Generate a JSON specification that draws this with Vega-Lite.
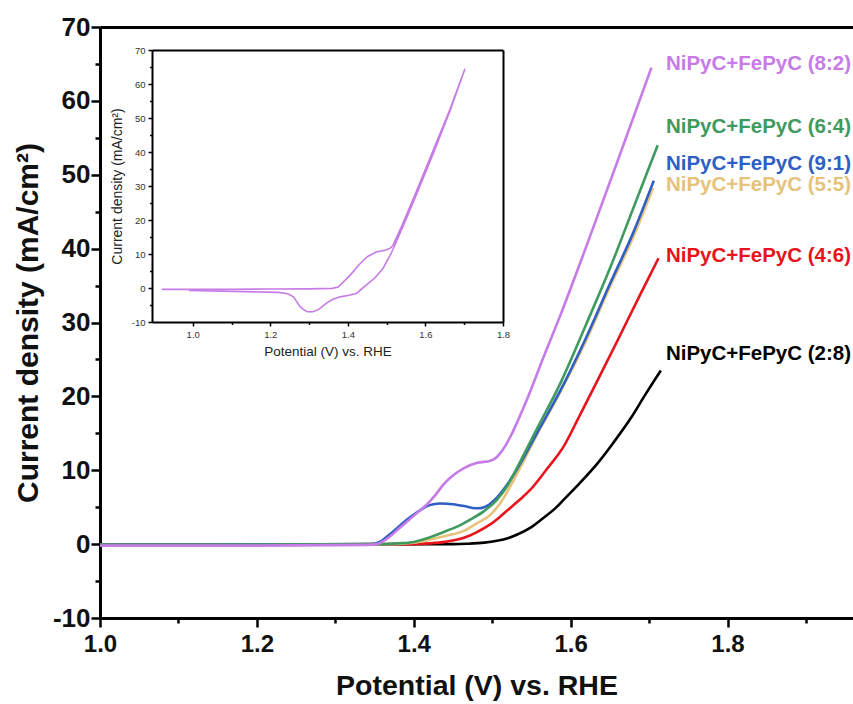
{
  "$schema": "https://vega.github.io/schema/vega-lite/v6.json",
  "width": 753,
  "height": 591,
  "autosize": {"type": "none"},
  "padding": {"left": 100, "top": 27, "right": 0, "bottom": 86},
  "background": "white",
  "config": {"view": {"stroke": null}, "axis": {"grid": false}},
  "datasets": {
    "curves": [
      {"series": "2:8", "V": 1.0, "J": -0.1}, {"series": "2:8", "V": 1.45, "J": 0}, {"series": "2:8", "V": 1.468, "J": 0.05}, {"series": "2:8", "V": 1.49, "J": 0.2}, {"series": "2:8", "V": 1.506, "J": 0.45}, {"series": "2:8", "V": 1.52, "J": 0.8}, {"series": "2:8", "V": 1.532, "J": 1.3}, {"series": "2:8", "V": 1.55, "J": 2.3}, {"series": "2:8", "V": 1.566, "J": 3.6}, {"series": "2:8", "V": 1.58, "J": 4.8}, {"series": "2:8", "V": 1.591, "J": 6.0}, {"series": "2:8", "V": 1.612, "J": 8.3}, {"series": "2:8", "V": 1.634, "J": 10.9}, {"series": "2:8", "V": 1.655, "J": 13.8}, {"series": "2:8", "V": 1.677, "J": 17.1}, {"series": "2:8", "V": 1.695, "J": 20.2}, {"series": "2:8", "V": 1.715, "J": 23.5},
      {"series": "4:6", "V": 1.0, "J": -0.1}, {"series": "4:6", "V": 1.4, "J": 0}, {"series": "4:6", "V": 1.421, "J": 0.1}, {"series": "4:6", "V": 1.44, "J": 0.3}, {"series": "4:6", "V": 1.464, "J": 0.85}, {"series": "4:6", "V": 1.48, "J": 1.6}, {"series": "4:6", "V": 1.498, "J": 2.7}, {"series": "4:6", "V": 1.51, "J": 3.7}, {"series": "4:6", "V": 1.523, "J": 4.9}, {"series": "4:6", "V": 1.535, "J": 6.0}, {"series": "4:6", "V": 1.549, "J": 7.4}, {"series": "4:6", "V": 1.57, "J": 10.2}, {"series": "4:6", "V": 1.591, "J": 13.2}, {"series": "4:6", "V": 1.612, "J": 17.5}, {"series": "4:6", "V": 1.634, "J": 22.1}, {"series": "4:6", "V": 1.66, "J": 27.6}, {"series": "4:6", "V": 1.686, "J": 33.2}, {"series": "4:6", "V": 1.712, "J": 38.7},
      {"series": "5:5", "V": 1.0, "J": -0.1}, {"series": "5:5", "V": 1.37, "J": 0}, {"series": "5:5", "V": 1.4, "J": 0.2}, {"series": "5:5", "V": 1.42, "J": 0.6}, {"series": "5:5", "V": 1.44, "J": 1.1}, {"series": "5:5", "V": 1.464, "J": 1.8}, {"series": "5:5", "V": 1.48, "J": 2.8}, {"series": "5:5", "V": 1.498, "J": 4.0}, {"series": "5:5", "V": 1.51, "J": 5.5}, {"series": "5:5", "V": 1.532, "J": 9.6}, {"series": "5:5", "V": 1.557, "J": 14.8}, {"series": "5:5", "V": 1.587, "J": 20.6}, {"series": "5:5", "V": 1.62, "J": 27.6}, {"series": "5:5", "V": 1.65, "J": 34.8}, {"series": "5:5", "V": 1.68, "J": 41.6}, {"series": "5:5", "V": 1.705, "J": 48.2},
      {"series": "9:1", "V": 1.0, "J": -0.1}, {"series": "9:1", "V": 1.345, "J": 0}, {"series": "9:1", "V": 1.357, "J": 0.3}, {"series": "9:1", "V": 1.368, "J": 1.2}, {"series": "9:1", "V": 1.379, "J": 2.2}, {"series": "9:1", "V": 1.39, "J": 3.2}, {"series": "9:1", "V": 1.4, "J": 4.0}, {"series": "9:1", "V": 1.41, "J": 4.7}, {"series": "9:1", "V": 1.417, "J": 5.15}, {"series": "9:1", "V": 1.425, "J": 5.4}, {"series": "9:1", "V": 1.434, "J": 5.5}, {"series": "9:1", "V": 1.45, "J": 5.4}, {"series": "9:1", "V": 1.464, "J": 5.15}, {"series": "9:1", "V": 1.475, "J": 4.9}, {"series": "9:1", "V": 1.481, "J": 4.85}, {"series": "9:1", "V": 1.49, "J": 5.0}, {"series": "9:1", "V": 1.494, "J": 5.2}, {"series": "9:1", "V": 1.5, "J": 5.7}, {"series": "9:1", "V": 1.506, "J": 6.3}, {"series": "9:1", "V": 1.52, "J": 8.2}, {"series": "9:1", "V": 1.532, "J": 10.2}, {"series": "9:1", "V": 1.557, "J": 15.0}, {"series": "9:1", "V": 1.587, "J": 20.8}, {"series": "9:1", "V": 1.62, "J": 28.0}, {"series": "9:1", "V": 1.65, "J": 35.2}, {"series": "9:1", "V": 1.68, "J": 42.2}, {"series": "9:1", "V": 1.706, "J": 49.2},
      {"series": "6:4", "V": 1.0, "J": -0.1}, {"series": "6:4", "V": 1.36, "J": 0}, {"series": "6:4", "V": 1.38, "J": 0.1}, {"series": "6:4", "V": 1.4, "J": 0.3}, {"series": "6:4", "V": 1.42, "J": 0.9}, {"series": "6:4", "V": 1.442, "J": 1.8}, {"series": "6:4", "V": 1.46, "J": 2.6}, {"series": "6:4", "V": 1.472, "J": 3.3}, {"series": "6:4", "V": 1.49, "J": 4.5}, {"series": "6:4", "V": 1.506, "J": 6.0}, {"series": "6:4", "V": 1.52, "J": 8.0}, {"series": "6:4", "V": 1.532, "J": 10.4}, {"series": "6:4", "V": 1.557, "J": 15.6}, {"series": "6:4", "V": 1.587, "J": 21.8}, {"series": "6:4", "V": 1.62, "J": 29.8}, {"series": "6:4", "V": 1.65, "J": 37.3}, {"series": "6:4", "V": 1.68, "J": 45.5}, {"series": "6:4", "V": 1.711, "J": 54.0},
      {"series": "8:2", "V": 1.0, "J": -0.2}, {"series": "8:2", "V": 1.2, "J": -0.2}, {"series": "8:2", "V": 1.34, "J": -0.1}, {"series": "8:2", "V": 1.353, "J": 0}, {"series": "8:2", "V": 1.368, "J": 0.9}, {"series": "8:2", "V": 1.38, "J": 2.0}, {"series": "8:2", "V": 1.392, "J": 3.1}, {"series": "8:2", "V": 1.405, "J": 4.3}, {"series": "8:2", "V": 1.417, "J": 5.4}, {"series": "8:2", "V": 1.428, "J": 6.7}, {"series": "8:2", "V": 1.438, "J": 8.1}, {"series": "8:2", "V": 1.45, "J": 9.3}, {"series": "8:2", "V": 1.464, "J": 10.3}, {"series": "8:2", "V": 1.481, "J": 11.0}, {"series": "8:2", "V": 1.498, "J": 11.3}, {"series": "8:2", "V": 1.506, "J": 11.8}, {"series": "8:2", "V": 1.513, "J": 12.7}, {"series": "8:2", "V": 1.523, "J": 14.5}, {"series": "8:2", "V": 1.536, "J": 17.5}, {"series": "8:2", "V": 1.549, "J": 20.8}, {"series": "8:2", "V": 1.565, "J": 25.2}, {"series": "8:2", "V": 1.587, "J": 31.0}, {"series": "8:2", "V": 1.62, "J": 40.3}, {"series": "8:2", "V": 1.66, "J": 51.9}, {"series": "8:2", "V": 1.703, "J": 64.5}
    ],
    "labels": [
      {"series": "8:2", "text": "NiPyC+FePyC (8:2)", "V": 1.7215, "J": 65.0},
      {"series": "6:4", "text": "NiPyC+FePyC (6:4)", "V": 1.7215, "J": 56.5},
      {"series": "9:1", "text": "NiPyC+FePyC (9:1)", "V": 1.7215, "J": 51.5},
      {"series": "5:5", "text": "NiPyC+FePyC (5:5)", "V": 1.7215, "J": 48.6},
      {"series": "4:6", "text": "NiPyC+FePyC (4:6)", "V": 1.7215, "J": 39.0},
      {"series": "2:8", "text": "NiPyC+FePyC (2:8)", "V": 1.7215, "J": 25.7}
    ],
    "cv": [
      {"i": 1, "V": 0.92, "J": -0.4}, {"i": 2, "V": 1.0, "J": -0.4}, {"i": 3, "V": 1.1, "J": -0.35}, {"i": 4, "V": 1.2, "J": -0.3}, {"i": 5, "V": 1.3, "J": -0.25}, {"i": 6, "V": 1.36, "J": -0.1}, {"i": 7, "V": 1.375, "J": 0.3}, {"i": 8, "V": 1.396, "J": 2.6}, {"i": 9, "V": 1.41, "J": 4.3}, {"i": 10, "V": 1.43, "J": 7.0}, {"i": 11, "V": 1.45, "J": 9.2}, {"i": 12, "V": 1.473, "J": 10.6}, {"i": 13, "V": 1.499, "J": 11.2}, {"i": 14, "V": 1.51, "J": 11.8}, {"i": 15, "V": 1.516, "J": 12.5}, {"i": 16, "V": 1.54, "J": 18.5}, {"i": 17, "V": 1.577, "J": 28.5}, {"i": 18, "V": 1.62, "J": 40.5}, {"i": 19, "V": 1.663, "J": 52.5}, {"i": 20, "V": 1.702, "J": 64.5},
      {"i": 21, "V": 1.663, "J": 52.0}, {"i": 22, "V": 1.62, "J": 39.5}, {"i": 23, "V": 1.577, "J": 27.5}, {"i": 24, "V": 1.54, "J": 17.5}, {"i": 25, "V": 1.511, "J": 10.0}, {"i": 26, "V": 1.5, "J": 7.8}, {"i": 27, "V": 1.491, "J": 5.8}, {"i": 28, "V": 1.47, "J": 3.0}, {"i": 29, "V": 1.448, "J": 0.9}, {"i": 30, "V": 1.422, "J": -1.6}, {"i": 31, "V": 1.4, "J": -2.2}, {"i": 32, "V": 1.38, "J": -2.6}, {"i": 33, "V": 1.36, "J": -3.4}, {"i": 34, "V": 1.344, "J": -4.5}, {"i": 35, "V": 1.325, "J": -6.3}, {"i": 36, "V": 1.31, "J": -7.0}, {"i": 37, "V": 1.295, "J": -7.0}, {"i": 38, "V": 1.285, "J": -6.3}, {"i": 39, "V": 1.277, "J": -5.5}, {"i": 40, "V": 1.268, "J": -4.0}, {"i": 41, "V": 1.26, "J": -2.6}, {"i": 42, "V": 1.245, "J": -1.7}, {"i": 43, "V": 1.22, "J": -1.3}, {"i": 44, "V": 1.19, "J": -1.2}, {"i": 45, "V": 1.105, "J": -1.0}, {"i": 46, "V": 0.99, "J": -0.7}
    ]
  },
  "layer": [
    {
      "resolve": {"axis": {"x": "independent", "y": "independent"}},
      "layer": [
        {
          "data": {"name": "curves"},
          "mark": {"type": "line", "strokeWidth": 2.6, "interpolate": "monotone"},
          "encoding": {
            "x": {
              "field": "V", "type": "quantitative",
              "scale": {"domain": [1.0, 1.96], "nice": false, "zero": false},
              "axis": {
                "orient": "bottom", "values": [1.0, 1.1, 1.2, 1.3, 1.4, 1.5, 1.6, 1.7, 1.8, 1.9],
                "format": ".1f",
                "labelExpr": "round(datum.value*10) % 2 === 0 ? datum.label : ''",
                "domainColor": "#000", "domainWidth": 3,
                "tickColor": "#000", "tickWidth": 2.5,
                "tickSize": {"condition": {"test": "round(datum.value*10) % 2 === 0", "value": 9}, "value": 5},
                "labelFont": "Liberation Sans", "labelFontWeight": "bold", "labelFontSize": 24, "labelColor": "#111",
                "labelPadding": 5, "labelFlush": false, "labelOverlap": false,
                "title": "Potential (V) vs. RHE", "titleFont": "Liberation Sans", "titleFontWeight": "bold",
                "titleFontSize": 28.5, "titleColor": "#111", "titlePadding": 15
              }
            },
            "y": {
              "field": "J", "type": "quantitative",
              "scale": {"domain": [-10, 70], "nice": false, "zero": false},
              "axis": {
                "orient": "left", "values": [-10, -5, 0, 5, 10, 15, 20, 25, 30, 35, 40, 45, 50, 55, 60, 65, 70],
                "labelExpr": "datum.value % 10 === 0 ? replace(datum.label, '\u2212', '-') : ''",
                "domainColor": "#000", "domainWidth": 3,
                "tickColor": "#000", "tickWidth": 2.5,
                "tickSize": {"condition": {"test": "datum.value % 10 === 0", "value": 9}, "value": 5},
                "labelFont": "Liberation Sans", "labelFontWeight": "bold", "labelFontSize": 26, "labelColor": "#111",
                "labelPadding": 1, "labelFlush": false, "labelOverlap": false,
                "title": "Current density (mA/cm²)", "titleFont": "Liberation Sans", "titleFontWeight": "bold",
                "titleFontSize": 30, "titleColor": "#111", "titlePadding": 9
              }
            },
            "color": {
              "field": "series", "type": "nominal", "legend": null,
              "scale": {"domain": ["8:2", "6:4", "9:1", "5:5", "4:6", "2:8"], "range": ["#C77BE6", "#3F9A5E", "#2F5FC4", "#E6C27A", "#E8141C", "#000000"]}
            },
            "order": {"field": "V", "type": "quantitative"}
          }
        },
        {
          "data": {"name": "labels"},
          "mark": {"type": "text", "align": "left", "baseline": "middle", "font": "Liberation Sans", "fontWeight": "bold", "fontSize": 20.5},
          "encoding": {
            "x": {"field": "V", "type": "quantitative", "axis": {"orient": "top", "labels": false, "ticks": false, "title": null, "domainColor": "#000", "domainWidth": 3}},
            "y": {"field": "J", "type": "quantitative", "axis": null},
            "text": {"field": "text"},
            "color": {"field": "series", "type": "nominal", "legend": null}
          }
        }
      ]
    },
    {
      "resolve": {"axis": {"x": "independent", "y": "independent"}},
      "layer": [
        {
          "data": {"name": "cv"},
          "mark": {"type": "line", "strokeWidth": 1.6, "color": "#C77BE6"},
          "encoding": {
            "x": {
              "field": "V", "type": "quantitative",
              "scale": {"domain": [0.895, 1.8], "range": [52, 403], "nice": false, "zero": false},
              "axis": {
                "orient": "bottom", "offset": -296,
                "values": [1.0, 1.1, 1.2, 1.3, 1.4, 1.5, 1.6, 1.7, 1.8], "format": ".1f",
                "labelExpr": "round(datum.value*10) % 2 === 0 ? datum.label : ''",
                "domainColor": "#000", "domainWidth": 2, "tickColor": "#000", "tickWidth": 1.5,
                "tickSize": {"condition": {"test": "round(datum.value*10) % 2 === 0", "value": 4}, "value": 2.5},
                "labelFont": "Liberation Sans", "labelFontSize": 9.5, "labelColor": "#333", "labelPadding": 3,
                "labelFlush": false, "labelOverlap": false,
                "title": "Potential (V) vs. RHE", "titleFont": "Liberation Sans", "titleFontWeight": "normal",
                "titleFontSize": 13.5, "titleColor": "#222", "titlePadding": 6
              }
            },
            "y": {
              "field": "J", "type": "quantitative",
              "scale": {"domain": [-10, 70], "range": [295, 23], "nice": false, "zero": false},
              "axis": {
                "orient": "left", "offset": -52,
                "values": [-10, -5, 0, 5, 10, 15, 20, 25, 30, 35, 40, 45, 50, 55, 60, 65, 70],
                "labelExpr": "datum.value % 10 === 0 ? replace(datum.label, '\u2212', '-') : ''",
                "domainColor": "#000", "domainWidth": 2, "tickColor": "#000", "tickWidth": 1.5,
                "tickSize": {"condition": {"test": "datum.value % 10 === 0", "value": 4}, "value": 2.5},
                "labelFont": "Liberation Sans", "labelFontSize": 9.5, "labelColor": "#333", "labelPadding": 3,
                "labelFlush": false, "labelOverlap": false,
                "title": "Current density (mA/cm²)", "titleFont": "Liberation Sans", "titleFontWeight": "normal",
                "titleFontSize": 14, "titleColor": "#222", "titlePadding": 7
              }
            },
            "order": {"field": "i", "type": "quantitative"}
          }
        },
        {
          "mark": {"type": "rule", "strokeDash": [3, 3], "color": "#888", "strokeWidth": 1},
          "encoding": {
            "x": {"datum": 0.895, "type": "quantitative", "axis": {"orient": "top", "offset": -23, "labels": false, "ticks": false, "title": null, "domainColor": "#000", "domainWidth": 2}},
            "x2": {"datum": 1.8},
            "y": {"datum": 10, "type": "quantitative", "axis": {"orient": "right", "offset": -350, "labels": false, "ticks": false, "title": null, "domainColor": "#000", "domainWidth": 2}}
          }
        },
        {
          "mark": {"type": "rule", "strokeDash": [3, 3], "color": "#888", "strokeWidth": 1},
          "encoding": {
            "x": {"datum": 1.511, "type": "quantitative", "axis": null},
            "y": {"datum": -10, "type": "quantitative", "axis": null},
            "y2": {"datum": 70}
          }
        },
        {
          "mark": {"type": "text", "align": "left", "baseline": "middle", "font": "Liberation Sans", "fontWeight": "bold", "fontSize": 15, "color": "#111"},
          "encoding": {
            "x": {"datum": 1.518, "type": "quantitative", "axis": null},
            "y": {"datum": 6.1, "type": "quantitative", "axis": null},
            "text": {"value": "280 mV"}
          }
        },
        {
          "mark": {"type": "text", "align": "center", "baseline": "middle", "font": "Liberation Sans", "fontSize": 11, "color": "#C77BE6"},
          "encoding": {
            "x": {"datum": 1.252, "type": "quantitative", "axis": null},
            "y": {"datum": 66.3, "type": "quantitative", "axis": null},
            "text": {"value": "NiPyC+FePyC (8:2)"}
          }
        }
      ]
    }
  ],
  "resolve": {"scale": {"x": "independent", "y": "independent"}}
}
